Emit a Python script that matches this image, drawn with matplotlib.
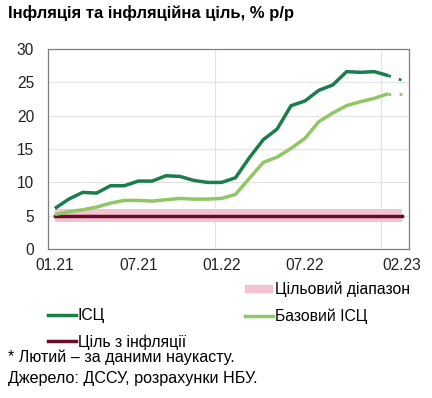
import numpy as np
import matplotlib
matplotlib.use("Agg")
import matplotlib.pyplot as plt
from matplotlib.lines import Line2D

plt.rcParams['font.family'] = ['Liberation Sans', 'DejaVu Sans']

# місяці 01.21 - 02.23
months = ["01.21", "02.21", "03.21", "04.21", "05.21", "06.21", "07.21", "08.21",
          "09.21", "10.21", "11.21", "12.21", "01.22", "02.22", "03.22", "04.22",
          "05.22", "06.22", "07.22", "08.22", "09.22", "10.22", "11.22", "12.22",
          "01.23", "02.23"]
cpi = [6.1, 7.5, 8.5, 8.4, 9.5, 9.5, 10.2, 10.2, 11.0, 10.9, 10.3, 10.0,
       10.0, 10.7, 13.7, 16.4, 18.0, 21.5, 22.2, 23.8, 24.6, 26.6, 26.5, 26.6,
       26.0, 25.3]
core = [5.2, 5.6, 5.9, 6.3, 6.9, 7.3, 7.3, 7.2, 7.4, 7.6, 7.5, 7.5,
        7.6, 8.2, 10.6, 13.0, 13.8, 15.1, 16.6, 19.1, 20.4, 21.5, 22.1, 22.6,
        23.3, 23.3]
target = 5.0
band_lo, band_hi = 4.0, 6.0
tick_labels = ["01.21", "07.21", "01.22", "07.22", "02.23"]

dark_green = "#1b7d4b"
light_green = "#8fc764"
pink = "#f2c3cf"
maroon = "#6a0a2c"

x = np.arange(len(months))
n_fact = len(months) - 1  # останній місяць - наукаст

fig = plt.figure(figsize=(4.32, 3.98), dpi=100)
ax = fig.add_axes([0.111, 0.374, 0.836, 0.503])

ax.fill_between(x, band_lo, band_hi, color=pink, lw=0, zorder=1)
ax.plot(x, [target] * len(x), color=maroon, lw=2.5, zorder=2)
ax.plot(x[:n_fact], cpi[:n_fact], color=dark_green, lw=2.5, zorder=3,
        solid_capstyle='butt')
ax.plot(x[n_fact - 1:], cpi[n_fact - 1:], color=dark_green, lw=2.0, ls=(0, (1, 3)), zorder=3)
ax.plot(x[:n_fact], core[:n_fact], color=light_green, lw=2.5, zorder=3,
        solid_capstyle='butt')
ax.plot(x[n_fact - 1:], core[n_fact - 1:], color=light_green, lw=2.0, ls=(0, (1, 3)), zorder=3)

ax.set_xlim(-0.5, len(months) - 0.5)
ax.set_ylim(0, 30)
ax.set_yticks(range(0, 31, 5))
ax.set_xticks([months.index(t) for t in tick_labels])
ax.set_xticklabels(tick_labels)
ax.tick_params(length=0, labelsize=11.2, colors="#222222")
ax.tick_params(axis='x', pad=6.5)
ax.tick_params(axis='y', pad=10)
for y in range(5, 30, 5):
    ax.axhline(y, color="#e3e3e3", lw=0.8, zorder=0)
for xv in [11.5, 23.5]:
    ax.axvline(xv, color="#e3e3e3", lw=0.8, zorder=0)
for s in ax.spines.values():
    s.set_color("#7f7f7f")
    s.set_linewidth(0.9)

fig.text(0.019, 0.968, "Інфляція та інфляційна ціль, % р/р", fontsize=12,
         fontweight='bold', va='center', ha='left')

leg_kw = dict(loc='upper left', frameon=False, fontsize=11.3, handlelength=1.78,
              handletextpad=0.12, labelspacing=0.72, borderaxespad=0, borderpad=0)
h1 = [Line2D([], [], color='none'),
      Line2D([], [], color=dark_green, lw=2.5),
      Line2D([], [], color=maroon, lw=2.5)]
fig.legend(h1, ["", "ІСЦ", "Ціль з інфляції"], bbox_to_anchor=(0.111, 0.292), **leg_kw)
h2 = [Line2D([], [], color=pink, lw=6, solid_capstyle='butt'),
      Line2D([], [], color=light_green, lw=2.5)]
fig.legend(h2, ["Цільовий діапазон", "Базовий ІСЦ"], bbox_to_anchor=(0.567, 0.292), **leg_kw)

fig.text(0.019, 0.103, "* Лютий – за даними наукасту.", fontsize=11.6, va='center')
fig.text(0.019, 0.05, "Джерело: ДССУ, розрахунки НБУ.", fontsize=11.6, va='center')

fig.savefig("out.png", dpi=100)
